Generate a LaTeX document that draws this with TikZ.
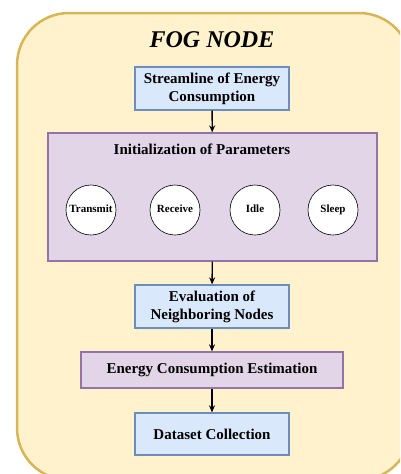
\documentclass[tikz,border=0pt]{standalone}
\usepackage{fontspec}
\setmainfont{Liberation Serif}
\usetikzlibrary{arrows.meta}
\definecolor{fogfill}{HTML}{FFF2CC}
\definecolor{fogline}{HTML}{D6B656}
\definecolor{bluefill}{HTML}{DAE8FC}
\definecolor{blueline}{HTML}{6C8EBF}
\definecolor{purfill}{HTML}{E1D5E7}
\definecolor{purline}{HTML}{9673A6}
\begin{document}
\begin{tikzpicture}[x=1pt,y=-1pt,
  bluebox/.style={draw=blueline,fill=bluefill,line width=1.3pt,align=center,font=\fontsize{15}{18}\selectfont\bfseries,inner sep=0pt},
  purbox/.style={draw=purline,fill=purfill,line width=1.3pt,align=center,font=\fontsize{15}{18}\selectfont\bfseries,inner sep=0pt},
  state/.style={circle,draw=black,fill=white,line width=0.6pt,minimum size=50pt,inner sep=0pt,text height=7.5pt,text depth=2.5pt,font=\fontsize{11}{13}\selectfont\bfseries},
  flow/.style={-{Stealth[length=7pt,width=6pt]},line width=1.3pt,black}]
\useasboundingbox (0,0) rectangle (400,474);
\begin{scope}
\clip (0,0) rectangle (400,474);
\draw[fogline,fill=fogfill,line width=2.5pt,rounded corners=52pt] (17,13) rectangle (411,480);
\end{scope}
\node[font=\fontsize{24}{28}\selectfont\bfseries\itshape] (title) at (212,40) {FOG NODE};
\node[bluebox,minimum width=154pt,minimum height=43pt] (s1) at (212,88.5) {Streamline of Energy\\Consumption};
\node[purbox,minimum width=329pt,minimum height=128pt] (init) at (212.5,197) {};
\node[font=\fontsize{15}{18}\selectfont\bfseries] (inittitle) at (202,149) {Initialization of Parameters};
\node[state] (tx) at (91,210) {Transmit};
\node[state] (rx) at (175,210) {Receive};
\node[state] (idle) at (255,210) {Idle};
\node[state] (sleep) at (333,210) {Sleep};
\node[bluebox,minimum width=154pt,minimum height=43pt] (eval) at (212,306.5) {Evaluation of\\Neighboring Nodes};
\node[purbox,minimum width=262pt,minimum height=36pt] (est) at (212,370) {Energy Consumption Estimation};
\node[bluebox,minimum width=154pt,minimum height=42pt] (data) at (212,434) {Dataset Collection};
\draw[flow] (s1) -- (init);
\draw[flow] (init) -- (eval);
\draw[flow] (eval) -- (est);
\draw[flow] (est) -- (data);
\end{tikzpicture}
\end{document}
